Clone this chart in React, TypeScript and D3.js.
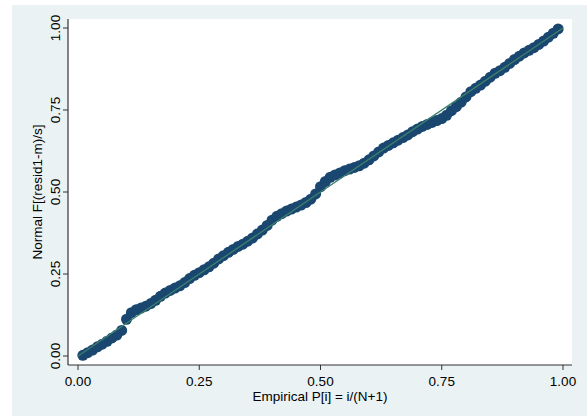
import React, { useRef, useEffect } from 'react';
import * as d3 from 'd3';

const normalF = [
  0.002, 0.010, 0.018, 0.028, 0.036, 0.045, 0.055, 0.064, 0.078, 0.112,
  0.132, 0.141, 0.146, 0.152, 0.160, 0.170, 0.182, 0.192, 0.200, 0.207,
  0.214, 0.224, 0.236, 0.246, 0.254, 0.263, 0.272, 0.283, 0.296, 0.306,
  0.316, 0.325, 0.334, 0.341, 0.350, 0.360, 0.372, 0.384, 0.398, 0.414,
  0.426, 0.434, 0.442, 0.448, 0.454, 0.460, 0.468, 0.478, 0.494, 0.516,
  0.532, 0.545, 0.552, 0.558, 0.565, 0.570, 0.575, 0.580, 0.588, 0.598,
  0.610, 0.622, 0.634, 0.642, 0.650, 0.658, 0.666, 0.674, 0.684, 0.692,
  0.700, 0.706, 0.712, 0.718, 0.724, 0.734, 0.748, 0.760, 0.774, 0.790,
  0.806, 0.816, 0.826, 0.838, 0.850, 0.862, 0.870, 0.880, 0.892, 0.904,
  0.914, 0.924, 0.932, 0.940, 0.950, 0.960, 0.972, 0.984, 0.997,
];

const tickValues = [0, 0.25, 0.5, 0.75, 1];
const xTitle = 'Empirical P[i] = i/(N+1)';
const yTitle = 'Normal F[(resid1-m)/s]';

function App() {
  const svgRef = useRef<SVGSVGElement>(null);

  useEffect(() => {
    const width = 587;
    const height = 416;
    const font = '"Liberation Sans", Arial, Helvetica, sans-serif';
    const svg = d3.select(svgRef.current).attr('width', width).attr('height', height);
    svg.selectAll('*').remove();

    const N = normalF.length;
    const points = normalF.map((f, i) => ({ p: (i + 1) / (N + 1), f }));

    const xScale = d3.scaleLinear().domain([0, 1]).range([78, 563]);
    const yScale = d3.scaleLinear().domain([0, 1]).range([356, 28]);

    // outer region + plot region
    svg.append('rect').attr('x', 12).attr('y', 5).attr('width', width - 12).attr('height', height - 5).attr('fill', '#eaf2f3');
    svg.append('rect').attr('x', 68).attr('y', 19).attr('width', 504).attr('height', 346).attr('fill', '#ffffff');

    // markers
    svg
      .append('g')
      .selectAll('circle')
      .data(points)
      .join('circle')
      .attr('cx', (d) => xScale(d.p))
      .attr('cy', (d) => yScale(d.f))
      .attr('r', 5.5)
      .attr('fill', '#1a476f');

    // reference line y = x
    svg
      .append('line')
      .attr('x1', xScale(0))
      .attr('y1', yScale(0))
      .attr('x2', xScale(1))
      .attr('y2', yScale(1))
      .attr('stroke', '#3d7f6e')
      .attr('stroke-width', 1.3);

    // x axis
    const xAxis = svg.append('g').attr('transform', 'translate(0,365)');
    xAxis.append('line').attr('x1', 68).attr('x2', 572).attr('stroke', '#333').attr('stroke-width', 1.2);
    xAxis
      .selectAll('.xt')
      .data(tickValues)
      .join('line')
      .attr('class', 'xt')
      .attr('x1', (d) => xScale(d))
      .attr('x2', (d) => xScale(d))
      .attr('y1', 0)
      .attr('y2', 5)
      .attr('stroke', '#333')
      .attr('stroke-width', 1);
    xAxis
      .selectAll('.xl')
      .data(tickValues)
      .join('text')
      .attr('class', 'xl')
      .attr('x', (d) => xScale(d))
      .attr('y', 21)
      .attr('text-anchor', 'middle')
      .attr('font-family', font)
      .attr('font-size', 13.5)
      .attr('fill', '#000')
      .text((d) => d3.format('.2f')(d));

    // y axis
    const yAxis = svg.append('g').attr('transform', 'translate(68,0)');
    yAxis.append('line').attr('y1', 19).attr('y2', 365).attr('stroke', '#333').attr('stroke-width', 1.2);
    yAxis
      .selectAll('.yt')
      .data(tickValues)
      .join('line')
      .attr('class', 'yt')
      .attr('x1', 0)
      .attr('x2', -5)
      .attr('y1', (d) => yScale(d))
      .attr('y2', (d) => yScale(d))
      .attr('stroke', '#333')
      .attr('stroke-width', 1);
    yAxis
      .selectAll('.yl')
      .data(tickValues)
      .join('text')
      .attr('class', 'yl')
      .attr('transform', (d) => `translate(-8,${yScale(d)}) rotate(-90)`)
      .attr('text-anchor', 'middle')
      .attr('font-family', font)
      .attr('font-size', 13.5)
      .attr('fill', '#000')
      .text((d) => d3.format('.2f')(d));

    // titles
    svg
      .append('text')
      .attr('x', 320)
      .attr('y', 401)
      .attr('text-anchor', 'middle')
      .attr('font-family', font)
      .attr('font-size', 13.5)
      .attr('fill', '#000')
      .text(xTitle);
    svg
      .append('text')
      .attr('transform', 'translate(42,192) rotate(-90)')
      .attr('text-anchor', 'middle')
      .attr('font-family', font)
      .attr('font-size', 13.5)
      .attr('fill', '#000')
      .text(yTitle);
  }, []);

  return <svg ref={svgRef} style={{ position: 'absolute', left: 0, top: 0 }} />;
}

export default App;
